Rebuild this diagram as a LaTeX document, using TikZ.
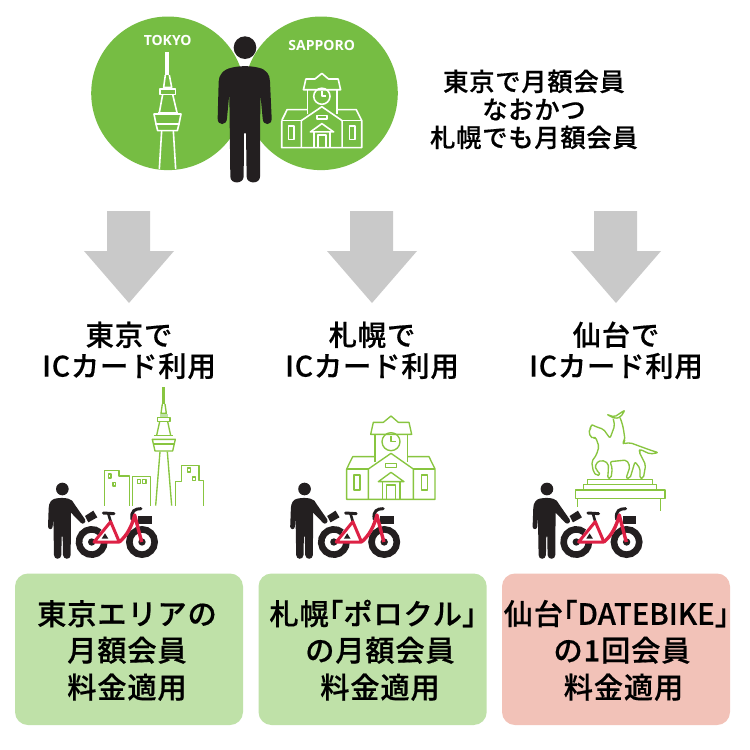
\documentclass[tikz,border=0pt]{standalone}
\usepackage{fontspec}
\newfontfamily\jp[LetterSpace=3,FakeBold=0.5]{Noto Sans CJK JP Medium}
\newfontfamily\jph[RawFeature=+halt,FakeBold=0.5]{Noto Sans CJK JP Medium}
\newfontfamily\jpn[FakeBold=0.5]{Noto Sans CJK JP Medium}
\newfontfamily\osans{Open Sans}
\definecolor{cgreen}{HTML}{76BD43}
\definecolor{lgreen}{HTML}{88C540}
\definecolor{bgreen}{HTML}{BFE1A8}
\definecolor{bpink}{HTML}{F2C2B8}
\definecolor{cblack}{HTML}{231F20}
\definecolor{cred}{HTML}{DD2145}
\definecolor{cgray}{HTML}{C9C9C9}
\tikzset{
  top/.style={inner sep=0pt,text=black,text height=22pt,text depth=3pt,font=\fontsize{25.3}{25.3}\selectfont\jp},
  lab/.style={inner sep=0pt,text=black,text height=24.6pt,text depth=3.4pt,font=\fontsize{28.3}{28.3}\selectfont\jp},
  boxt/.style={inner sep=0pt,text=black,text height=25pt,text depth=3.5pt,font=\fontsize{29.2}{29.2}\selectfont\jp},
  city/.style={inner sep=0pt,text=white,font=\fontsize{14}{14}\selectfont\osans\bfseries},
  card/.style={rounded corners=13pt},
  wline/.style={draw=white,line width=1.6pt,fill=none,line join=round},
  gline/.style={draw=lgreen,line width=1.35pt,fill=none,line join=round},
}
\newcommand{\gaparrow}[1]{\fill[cgray,shift={(#1,0)}] (-22,211)--(21,211)--(21,251)--(45,251)--(0,303)--(-45,251)--(-22,251)--cycle;}
\newcommand{\clockbldg}{%
  \path[pen] (200,207)--(200,298)--(465,298)--(465,207)--(447,170)--(383,170);
  \path[pen] (200,207)--(218,170)--(285,170);
  \path[pen] (200,207)--(265,207) (400,207)--(465,207);
  \path[pen] (265,298)--(265,207)--(333,160)--(400,207)--(400,298);
  \path[pen] (285,103)--(285,185) (383,103)--(383,185);
  \path[pen] (272,103)--(395,103)--(387,67)--(355,67)--(333,48)--(310,67)--(280,67)--cycle;
  \path[pen] (333,125) circle[radius=27];
  \path[pen] (333,108)--(333,125)--(348,125);
  \path[pen] (316,190) rectangle (350,202);
  \path[pen] (295,245)--(333,217)--(372,245)--cycle;
  \path[pen] (307,245)--(307,298) (360,245)--(360,298);
  \path[pen] (320,298)--(320,255)--(346,255)--(346,298);
  \path[pen] (222,225) rectangle (240,270);
  \path[pen] (425,225) rectangle (443,270);
}
\newcommand{\riderbike}[1]{%
 \begin{scope}[shift={(40+#1,480)},scale=0.33333]
  \fill[cblack] (67,27) circle[radius=19];
  \fill[cblack] (45,56) .. controls (60,53) and (72,53) .. (85,56) .. controls (95,58) and (100,65) .. (103,72) -- (135,118) .. controls (140,128) and (128,135) .. (122,128) -- (93,98) -- (92,225) .. controls (92,240) and (70,240) .. (69,225) -- (68,170) -- (65,170) -- (64,225) .. controls (63,240) and (42,240) .. (42,225) -- (40,110) -- (38,140) .. controls (37,150) and (25,150) .. (24,140) -- (26,85) .. controls (26,68) and (35,58) .. (45,56) -- cycle;
  \fill[cblack] (135,108)--(160,92)--(172,112)--(145,127)--cycle;
  \draw[cblack,line width=6.6pt] ([shift={(-50:38)}]155,186) arc[start angle=-50,end angle=-360,radius=38];
  \draw[cblack,line width=6.6pt] (306,186) circle[radius=38];
  \fill[cblack] (155,186) circle[radius=11] (306,186) circle[radius=11];
  \fill[cblack] (294,107) rectangle (335,133);
  \draw[white,line width=1pt] (294,107)--(335,107);
  \draw[cblack,line width=3pt,line cap=round] (190,99)--(222,101);
  \draw[cblack,line width=2.6pt] (205,101)--(212,125);
  \draw[cblack,line width=3pt,line cap=round] (276,118) .. controls (272,92) and (285,86) .. (303,86);
  \fill[cblack] (185,176)--(205,176)--(195,160)--cycle;
  \draw[cred,line width=3pt,line join=round] (162,186)--(238,186)--(212,125)--cycle;
  \draw[cred,line width=3.4pt,line join=round] (238,186) .. controls (262,165) and (275,140) .. (284,105) -- (305,186);
 \end{scope}}
\begin{document}
\begin{tikzpicture}[x=1pt,y=-1pt]
\useasboundingbox (0,0) rectangle (750,750);
\fill[white] (0,0) rectangle (750,750);
% hero circles
\fill[cgreen] (168,93.3) circle[radius=76.8];
\fill[cgreen] (321,93.3) circle[radius=76.8];
\node[city] (tokyo) at (167.7,40.7) {TOKYO};
\node[city] (sapporo) at (321.7,45.7) {SAPPORO};
% white tower
\begin{scope}[shift={(80,0)},scale=0.33333]
  \fill[white] (256,155) rectangle (268,225);
  \path[wline] (256,225)--(251,262)--(275,262)--(268,225);
  \path[wline] (240,267) rectangle (287,283);
  \path[wline] (248,283)--(238,338) (278,283)--(291,338);
  \path[wline] (222,342)--(303,342)--(297,372)--(228,372)--cycle;
  \path[wline] (234,338)--(293,338);
  \path[wline] (228,372)--(233,392)--(292,392)--(297,372);
  \path[wline] (245,392)--(238,507) (280,392)--(287,507);
\end{scope}
% white building
\begin{scope}[shift={(221.3,59.1)},xscale=0.302,yscale=0.2973,pen/.style={wline}]
  \clockbldg
\end{scope}
% main person
\begin{scope}[shift={(80,0)},scale=0.33333]
  \fill[cblack] (495,143) circle[radius=34];
  \fill[cblack] (455,203) .. controls (480,197) and (510,197) .. (535,203) .. controls (560,208) and (570,225) .. (570,245) -- (575,355) .. controls (576,378) and (548,378) .. (548,355) -- (541,280) -- (540,530) .. controls (540,553) and (500,553) .. (500,530) -- (498,400) -- (492,400) -- (491,530) .. controls (490,553) and (451,553) .. (451,530) -- (448,280) -- (441,355) .. controls (440,378) and (412,378) .. (413,355) -- (416,245) .. controls (416,225) and (430,208) .. (455,203) -- cycle;
\end{scope}
% top text
\node[top] (t1) at (534,81.5) {東京で月額会員};
\node[top] (t2) at (534,109.5) {なおかつ};
\node[top] (t3) at (534,137.5) {札幌でも月額会員};
% arrows
\gaparrow{129}
\gaparrow{372}
\gaparrow{616}
% labels
\node[lab] (la1) at (129,335) {東京で};
\node[lab] (lb1) at (129,366) {ICカード利用};
\node[lab] (la2) at (372,335) {札幌で};
\node[lab] (lb2) at (372,366) {ICカード利用};
\node[lab] (la3) at (616,335) {仙台で};
\node[lab] (lb3) at (616,366) {ICカード利用};
% green tower and buildings
\begin{scope}[shift={(30,380)},scale=0.33333]
  \fill[lgreen] (397,20) rectangle (405,72);
  \path[gline] (397,72)--(393,100)--(409,100)--(405,72);
  \fill[bgreen] (389,102) rectangle (413,112);
  \path[gline] (382,112) rectangle (420,125);
  \path[gline] (389,125)--(380,166) (413,125)--(422,166);
  \path[gline] (372,166)--(430,166);
  \path[gline] (367,178)--(436,178)--(428,213)--(375,213)--cycle;
  \path[gline] (370,192)--(432,192);
  \path[gline] (390,215)--(377,377) (412,215)--(425,377);
  \path[gline] (223,377)--(223,272)--(267,272)--(267,288)--(299,288)--(299,377);
  \path[gline] (235,282) rectangle (243,294) (249,307) rectangle (257,318);
  \path[gline] (307,377)--(307,289)--(362,289)--(362,377);
  \path[gline] (322,298) rectangle (332,310) (338,298) rectangle (348,310);
  \path[gline] (436,377)--(436,305)--(454,305)--(454,256)--(507,256)--(507,302)--(521,302)--(521,377);
  \path[gline] (473,264) rectangle (482,276) (487,291) rectangle (496,302);
\end{scope}
% green building
\begin{scope}[shift={(280,400)},scale=0.33333,pen/.style={gline}]
  \clockbldg
\end{scope}
% statue
\begin{scope}[shift={(575,405)},scale=0.33333]
  \path[gline] (38,238)--(38,224)--(232,224)--(232,238);
  \path[gline] (26,255)--(26,238)--(245,238)--(245,255);
  \path[gline] (2,255) rectangle (270,280);
  \path[gline] (8,280)--(8,306) (257,280)--(257,317);
  \path[gline,rounded corners=2pt] (95,28)--(118,36)--(150,15)--(137,36)--(120,41)--cycle;
  \path[gline,rounded corners=2pt] (115,42)--(119,62)--(105,100)--(85,72)--(70,68)--(48,58)--(50,68)--(42,72)--(45,95)--(55,100)--(62,97)--(72,125)--(64,150)--(50,170)--(55,200)--(65,212)--(75,210)--(72,200)--(62,195)--(62,175)--(80,165)--(100,175)--(100,195)--(98,220)--(108,220)--(112,190)--(105,170)--(155,165)--(165,185)--(153,220)--(165,220)--(180,170)--(195,190)--(195,220)--(205,220)--(212,180)--(192,140)--(195,133)--(225,147)--(250,143)--(225,135)--(165,113)--(145,116)--(145,110)--(150,105)--(145,70)--(140,50)--(135,38);
\end{scope}
% riders
\riderbike{0}
\riderbike{242.2}
\riderbike{484.6}
% cards
\fill[bgreen,card] (15,573.5) rectangle (243,725);
\fill[bgreen,card] (258.5,573.5) rectangle (486.7,725);
\fill[bpink,card] (502,573.5) rectangle (730,725);
\node[boxt] (c1a) at (127,614) {東京エリアの};
\node[boxt] (c1b) at (127,650.5) {月額会員};
\node[boxt] (c1c) at (127,687.5) {料金適用};
\node[boxt] (c2a) at (373,614) {札幌{\jph 「}ポロクル{\jph 」}};
\node[boxt] (c2b) at (380,650.5) {の月額会員};
\node[boxt] (c2c) at (380,687.5) {料金適用};
\node[boxt] (c3a) at (616.5,614) {仙台{\jph 「}{\jpn DATEBIKE}{\jph 」}};
\node[boxt] (c3b) at (622,650.5) {の1回会員};
\node[boxt] (c3c) at (623.5,687.5) {料金適用};
\end{tikzpicture}
\end{document}
